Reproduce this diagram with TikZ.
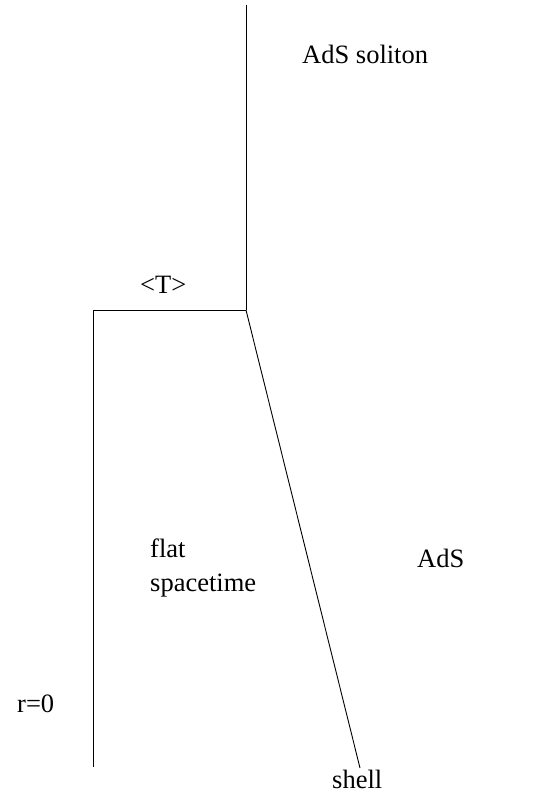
\documentclass[tikz,border=0pt]{standalone}
\usepackage{fontspec}
\setmainfont{Liberation Serif}
\usepackage{tikz}

\begin{document}
\begin{tikzpicture}[
    x=1pt, y=-1pt,
    every node/.style={font=\fontsize{26.5}{34}\selectfont},
    lbl/.style={anchor=base west, inner sep=0pt},
    wall/.style={line width=0.9pt}
]
    \useasboundingbox (0,0) rectangle (547,794);

    % Punkte der Schale
    \coordinate (top) at (246,5);
    \coordinate (kink) at (246,310);
    \coordinate (corner) at (93,310);
    \coordinate (origin) at (93,767);
    \coordinate (shellend) at (360,768);

    % Beschriftungen
    \node (soliton) [lbl] at (302,64) {AdS soliton};
    \node (temp) [lbl] at (140,293) {\textless T\textgreater};
    \node (flat) [lbl] at (150,557) {flat};
    \node (spacetime) [lbl] at (150,591) {spacetime};
    \node (ads) [lbl] at (417,567) {AdS};
    \node (rzero) [lbl] at (17,712) {r=0};
    \node (shell) [lbl] at (332,788) {shell};

    % Linien
    \draw [wall] (top) -- (kink);
    \draw [wall] (corner) -- (kink);
    \draw [wall] (corner) -- (origin);
    \draw [wall] (kink) -- (shellend);

\end{tikzpicture}
\end{document}
